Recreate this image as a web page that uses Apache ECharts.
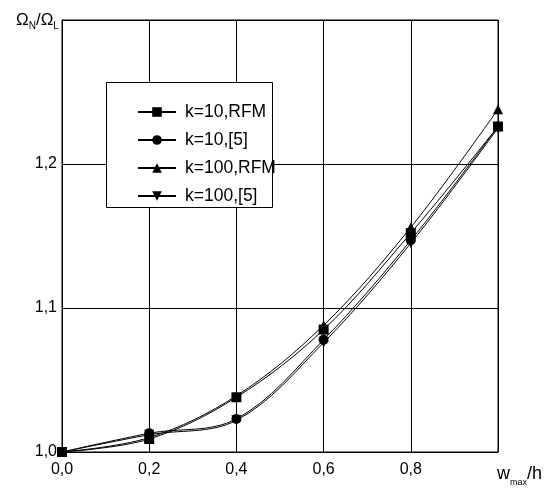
<!DOCTYPE html>
<html>
<head>
<meta charset="utf-8">
<script src="https://cdn.jsdelivr.net/npm/echarts@6/dist/echarts.min.js"></script>
<style>
  html, body { margin: 0; padding: 0; background: #fff; }
  #chart { width: 544px; height: 488px; }
</style>
</head>
<body>
<div id="chart"></div>
<script>
// Relative amplitude w_max/h
const xValues = [0.0, 0.2, 0.4, 0.6, 0.8, 1.0];

// Frequency ratio Omega_N / Omega_L for each case
const k10Rfm  = [1.000, 1.009, 1.038, 1.085, 1.152, 1.226];
const k10Ref  = [1.000, 1.013, 1.023, 1.078, 1.147, 1.226];
const k100Rfm = [1.000, 1.010, 1.039, 1.088, 1.156, 1.238];
const k100Ref = [1.000, 1.012, 1.022, 1.076, 1.145, 1.225];

const seriesNames = ['k=10,RFM', 'k=10,[5]', 'k=100,RFM', 'k=100,[5]'];

// Tick labels (decimal comma); the last tick of each axis is left blank
const xTickLabels = ['0,0', '0,2', '0,4', '0,6', '0,8', ''];
const yTickLabels = ['1,0', '1,1', '1,2', ''];

const FONT = '"Liberation Sans Narrow", "Arial Narrow", "Liberation Sans", Arial, sans-serif';

function pairs(ys) {
  return xValues.map((x, i) => [x, ys[i]]);
}

function makeSeries(name, ys, symbol, rotate) {
  return {
    name: name,
    type: 'line',
    data: pairs(ys),
    smooth: 0.35,
    symbol: symbol,
    symbolSize: 10,
    symbolRotate: rotate,
    showAllSymbol: true,
    lineStyle: { color: '#000', width: 1 },
    itemStyle: { color: '#000', borderWidth: 0 },
    z: 3
  };
}

const chart = echarts.init(document.getElementById('chart'), null, { renderer: 'canvas' });

chart.setOption({
  animation: false,
  backgroundColor: '#fff',
  textStyle: { fontFamily: FONT },
  grid: { left: 62, right: 46, top: 20, bottom: 36, show: true, borderColor: '#000', borderWidth: 1 },
  title: [
    {
      left: 11, top: 4,
      text: 'Ω{s|N}/Ω{s|L}',
      textStyle: {
        fontFamily: FONT, fontSize: 17, fontWeight: 'normal', color: '#000',
        rich: { s: { fontFamily: FONT, fontSize: 10, color: '#000', verticalAlign: 'bottom', padding: [12, 0, 0, 0] } }
      }
    },
    {
      left: 492, top: 457,
      text: 'w{s|max}/h',
      textStyle: {
        fontFamily: FONT, fontSize: 18, fontWeight: 'normal', color: '#000',
        rich: { s: { fontFamily: FONT, fontSize: 9, color: '#000', verticalAlign: 'bottom', padding: [16, 0, 0, 0] } }
      }
    }
  ],
  // Legend frame
  graphic: [
    {
      type: 'rect',
      shape: { x: 106.5, y: 82.5, width: 166, height: 125 },
      style: { fill: '#fff', stroke: '#000', lineWidth: 1 },
      z: 5
    }
  ],
  legend: {
    orient: 'vertical',
    left: 106, top: 82,
    padding: [21, 0, 0, 31],
    itemGap: 10,
    itemWidth: 38,
    itemHeight: 12,
    z: 10,
    data: seriesNames,
    textStyle: { fontFamily: FONT, fontSize: 17.5, color: '#000', padding: [0, 0, 0, 4] }
  },
  xAxis: {
    type: 'value',
    min: 0, max: 1.0, interval: 0.2,
    axisLine: { show: true, lineStyle: { color: '#000', width: 1 } },
    axisTick: { show: false },
    splitLine: { show: true, lineStyle: { color: '#000', width: 1 } },
    axisLabel: {
      color: '#000', fontFamily: FONT, fontSize: 16, margin: 10,
      formatter: v => xTickLabels[Math.round(v / 0.2)] || ''
    }
  },
  yAxis: {
    type: 'value',
    min: 1.0, max: 1.3, interval: 0.1,
    axisLine: { show: true, lineStyle: { color: '#000', width: 1 } },
    axisTick: { show: false },
    splitLine: { show: true, lineStyle: { color: '#000', width: 1 } },
    axisLabel: {
      color: '#000', fontFamily: FONT, fontSize: 16, margin: 5,
      formatter: v => yTickLabels[Math.round((v - 1.0) / 0.1)] || ''
    }
  },
  series: [
    makeSeries(seriesNames[0], k10Rfm, 'rect', 0),
    makeSeries(seriesNames[1], k10Ref, 'circle', 0),
    makeSeries(seriesNames[2], k100Rfm, 'triangle', 0),
    makeSeries(seriesNames[3], k100Ref, 'triangle', 180)
  ]
});
</script>
</body>
</html>
